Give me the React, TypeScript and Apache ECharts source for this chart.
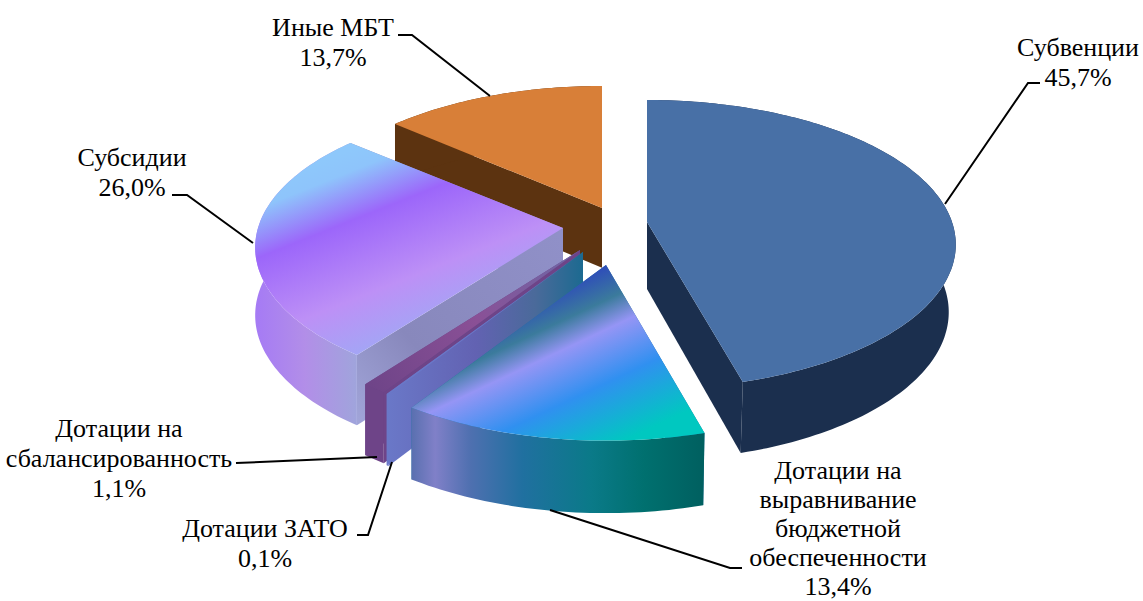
import React, { useEffect, useRef } from "react";
import * as echarts from "echarts";

const sliceNames = [
  "Субвенции",
  "Дотации на\nвыравнивание\nбюджетной\nобеспеченности",
  "Дотации ЗАТО",
  "Дотации на\nсбалансированность",
  "Субсидии",
  "Иные МБТ",
];
const sliceValues = [45.7, 13.4, 0.1, 1.1, 26.0, 13.7];

// Layout of the exploded 3D pie (projection parameters, not data)
const RX = 305;
const ryBySlice = [141, 144, 144, 144, 142, 144];
const perspBySlice = [0.156, 0.18, 0.18, 0.18, 0.135, 0.18];
const apexX = [647, 606, 583, 580, 563, 602];
const apexY = [222, 265, 252, 250, 228, 208];
const depthAdjust = [0, 0, 0, 0, 0, -7];
const drawOrder = [5, 0, 4, 3, 2, 1];

const grad = (x: number, y: number, x2: number, y2: number, stops: [number, string][]) =>
  new echarts.graphic.LinearGradient(
    x, y, x2, y2,
    stops.map(([offset, color]) => ({ offset, color })),
    true
  );

const topFills = [
  "#4870a6",
  grad(606, 265, 677, 416, [[0, "#2e4cba"], [0.19, "#3b7b9c"], [0.35, "#9595f5"], [0.64, "#3090f0"], [1, "#00c8c0"]]),
  "#6a78c8",
  grad(365, 385, 585, 250, [[0, "#6e4488"], [0.5, "#8a5096"], [1, "#6a6aa8"]]),
  grad(300, 170, 374, 356, [[0, "#8ec8fb"], [0.1, "#8ec4fb"], [0.33, "#9c66fa"], [0.7, "#bd90f6"], [1, "#a0a8f5"]]),
  "#d87f38",
];
const wallFills = [
  "#1b2f4e",
  grad(412, 0, 702, 0, [[0, "#5a70b0"], [0.08, "#8080c8"], [0.2, "#4f70b0"], [0.38, "#2070a0"], [0.62, "#0a7a88"], [0.8, "#00706f"], [1, "#006060"]]),
  "#6a78c8",
  "#6e4488",
  grad(254, 0, 356, 0, [[0, "#a57af5"], [0.5, "#b28ee8"], [1, "#a0a4dc"]]),
  "#5c3310",
];
const cutFills = [
  "#1b2f4e",
  "#2070a0",
  grad(387, 0, 585, 0, [[0, "#6a78c8"], [0.45, "#6262b2"], [0.75, "#4a6a9a"], [1, "#1a6a90"]]),
  "#6e4488",
  grad(350, 420, 563, 240, [[0, "#a2a6da"], [0.35, "#8888bc"], [1, "#9090c8"]]),
  "#5c3310",
];

const labels = [
  { i: 0, x: 1078, y: 62, lh: 30 },
  { i: 1, x: 838, y: 528, lh: 29 },
  { i: 2, x: 265, y: 543, lh: 30 },
  { i: 3, x: 119, y: 458, lh: 30 },
  { i: 4, x: 132, y: 172, lh: 30 },
  { i: 5, x: 333, y: 42, lh: 30 },
];
const leaders: number[][][] = [
  [[1040, 83], [1028, 83], [945, 204]],
  [[742, 568], [730, 568], [550, 510]],
  [[357, 535], [368, 535], [392, 462]],
  [[236, 463], [377, 457]],
  [[172, 195], [187, 195], [253, 243]],
  [[398, 35], [412, 35], [490, 96]],
];

const project = (i: number, theta: number) => {
  const s = 1 / (1 + perspBySlice[i] * Math.cos(theta));
  return [apexX[i] + RX * Math.sin(theta) * s, apexY[i] - ryBySlice[i] * Math.cos(theta) * s];
};
// Lower face: the same point pushed down, the right side drawn slightly inwards
const lower = (p: number[], adj: number) => [
  p[0] - Math.max(0, p[0] - 650) * 0.023,
  p[1] + 64 + (p[1] - 100) * 0.025 + adj,
];

const total = sliceValues.reduce((a, b) => a + b, 0);
const startAngles: number[] = [];
sliceValues.reduce((acc, v, i) => {
  startAngles[i] = acc;
  return acc + v;
}, 0);

const renderItem = (_params: any, api: any) => {
  const i = api.value(0) as number;
  const value = api.value(1) as number;
  const a0 = (startAngles[i] / total) * Math.PI * 2;
  const a1 = a0 + (value / total) * Math.PI * 2;
  const adj = depthAdjust[i];
  const steps = Math.max(2, Math.ceil((a1 - a0) / 0.02));
  const rim: number[][] = [];
  for (let k = 0; k <= steps; k++) rim.push(project(i, a0 + ((a1 - a0) * k) / steps));
  const apex = [apexX[i], apexY[i]];
  const apexLow = lower(apex, adj);
  const rimLow = rim.map((p) => lower(p, adj));
  const poly = (points: number[][], fill: any) => ({
    type: "polygon",
    shape: { points },
    style: { fill, stroke: null },
    silent: true,
  });
  return {
    type: "group",
    children: [
      poly([apex, rim[rim.length - 1], rimLow[rimLow.length - 1], apexLow], cutFills[i]),
      poly([apex, rim[0], rimLow[0], apexLow], cutFills[i]),
      poly([...rim, ...rimLow.slice().reverse()], wallFills[i]),
      poly([apex, ...rim], topFills[i]),
    ],
  };
};

const fmt = (v: number) => v.toFixed(1).replace(".", ",") + "%";

export default function App() {
  const ref = useRef<HTMLDivElement>(null);
  useEffect(() => {
    if (!ref.current) return;
    const chart = echarts.init(ref.current, undefined, { renderer: "svg" });
    chart.setOption({
      animation: false,
      backgroundColor: "#ffffff",
      series: [
        {
          type: "custom",
          coordinateSystem: "none",
          silent: true,
          renderItem,
          data: drawOrder.map((i) => [i, sliceValues[i]]),
        },
      ],
      graphic: [
        ...leaders.map((points) => ({
          type: "polyline",
          z: 20,
          shape: { points },
          style: { stroke: "#000000", lineWidth: 2, fill: null },
          silent: true,
        })),
        ...labels.map((l) => ({
          type: "text",
          z: 21,
          x: l.x,
          y: l.y,
          silent: true,
          style: {
            text: `${sliceNames[l.i]}\n${fmt(sliceValues[l.i])}`,
            fill: "#000000",
            font: '26px "Liberation Serif"',
            lineHeight: l.lh,
            align: "center",
            verticalAlign: "middle",
          },
        })),
      ],
    });
    return () => chart.dispose();
  }, []);
  return (
    <div
      ref={ref}
      style={{ position: "absolute", left: 0, top: 0, width: 1143, height: 601 }}
    />
  );
}
